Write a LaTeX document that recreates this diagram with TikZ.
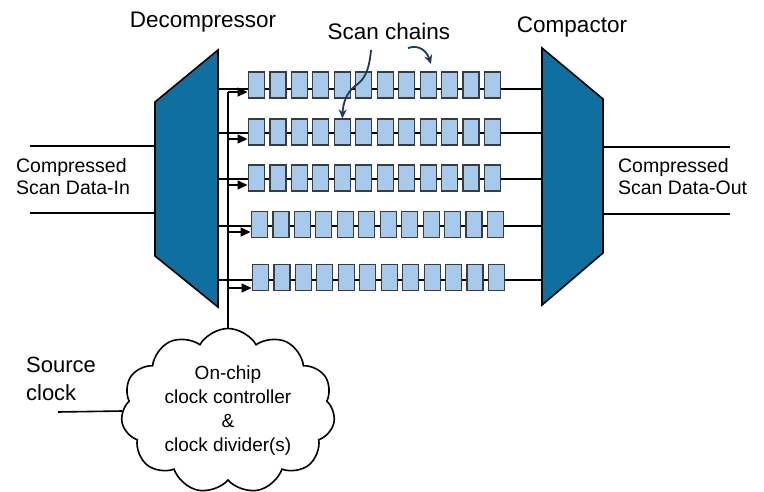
\documentclass[tikz,border=0pt]{standalone}
\usepackage{fontspec}
\setmainfont{Liberation Sans}
\usetikzlibrary{shapes.symbols,arrows.meta}
\definecolor{muxblue}{HTML}{0F6F9E}
\definecolor{ffblue}{HTML}{A7CAEC}
\definecolor{ffedge}{HTML}{383D42}
\definecolor{navy}{HTML}{1B3A5C}
\begin{document}
\begin{tikzpicture}[x=1pt,y=-1pt,line width=1.6pt,
  mux/.style={fill=muxblue,draw=black,line width=1.6pt,line join=miter},
  ff/.style={draw=ffedge,fill=ffblue,line width=1.2pt,minimum width=16pt,minimum height=26pt,inner sep=0pt},
  title/.style={font=\fontsize{22.5}{26}\selectfont},
  side/.style={font=\fontsize{19.5}{22}\selectfont,align=left},
  cloudtxt/.style={font=\fontsize{19}{24}\selectfont,align=center},
  clkarrow/.style={-{Triangle[length=10pt,width=9pt]},line width=1.6pt},
  note/.style={navy,line width=1.8pt,-{Stealth[length=9pt,width=8pt]}}]
\useasboundingbox (0,0) rectangle (764,491);

% decompressor and compactor
\coordinate (d1) at (155,102); \coordinate (d2) at (218,50);
\coordinate (d3) at (218,307); \coordinate (d4) at (155,256);
\coordinate (c1) at (542,48); \coordinate (c2) at (603,99);
\coordinate (c3) at (603,253); \coordinate (c4) at (542,305);

% input/output lines
\coordinate (in1) at (30,146); \coordinate (in1e) at (155,146);
\coordinate (in2) at (30,213); \coordinate (in2e) at (155,213);
\coordinate (out1) at (603,147); \coordinate (out1e) at (730,147);
\coordinate (out2) at (603,214); \coordinate (out2e) at (730,214);
\draw (in1) -- (in1e); \draw (in2) -- (in2e);
\draw (out1) -- (out1e); \draw (out2) -- (out2e);

% scan chain rows
\foreach \r/\ly/\cy/\xo in {1/89/85/249, 2/133/132/249, 3/179/178/249, 4/226/224.5/252, 5/280/277.5/253}{
  \coordinate (rl\r) at (218,\ly);
  \coordinate (rr\r) at (542,\ly);
  \draw (rl\r) -- (rr\r);
  \foreach \i in {1,...,12}{
    \node[ff] (b\r-\i) at ({\xo+7.5+(\i-1)*21.45},\cy) {};
  }
}

\draw[mux] (d1) -- (d2) -- (d3) -- (d4) -- cycle;
\draw[mux] (c1) -- (c2) -- (c3) -- (c4) -- cycle;

% cloud
\node[cloud,draw=black,line width=1.6pt,fill=white,cloud puffs=11,cloud puff arc=120,aspect=1.35,
      minimum width=214pt,minimum height=165pt,inner sep=0pt,cloudtxt] (clk) at (228,411)
      {On-chip\\clock controller\\\&\\clock divider(s)};

% clock distribution
\coordinate (vtop) at (228,92);
\draw (clk.north) -- (vtop);
\foreach \r/\ay/\xo in {1/92/249, 2/139/249, 3/185/249, 4/232/252, 5/288/253}{
  \coordinate (as\r) at (228,\ay);
  \coordinate (ae\r) at ({\xo-1.5},\ay);
  \draw[clkarrow] (as\r) -- (ae\r);
}

% source clock
\coordinate (src) at (58,412);
\draw (src) -- (clk.west);
\node[anchor=west,font=\fontsize{22}{28}\selectfont,align=left] (srclbl) at (22,379) {Source\\clock};

% labels
\node[title] (dec) at (203,22) {Decompressor};
\node[title] (sc) at (389,31) {Scan chains};
\node[title] (cmp) at (572,27) {Compactor};
\node[side,anchor=west] (inlbl) at (12,177) {Compressed\\Scan Data-In};
\node[side,anchor=west] (outlbl) at (614,177) {Compressed\\Scan Data-Out};

% scan chain pointers
\coordinate (p1) at (371,50);
\draw[note] (p1) .. controls (369,72) and (364,80) .. (355,86) .. controls (346,93) and (343,104) .. (b2-5.north);
\coordinate (p2s) at (408,48);
\coordinate (p2e) at (431,64);
\draw[note] (p2s) .. controls (420,44) and (427,52) .. (p2e);
\end{tikzpicture}
\end{document}
